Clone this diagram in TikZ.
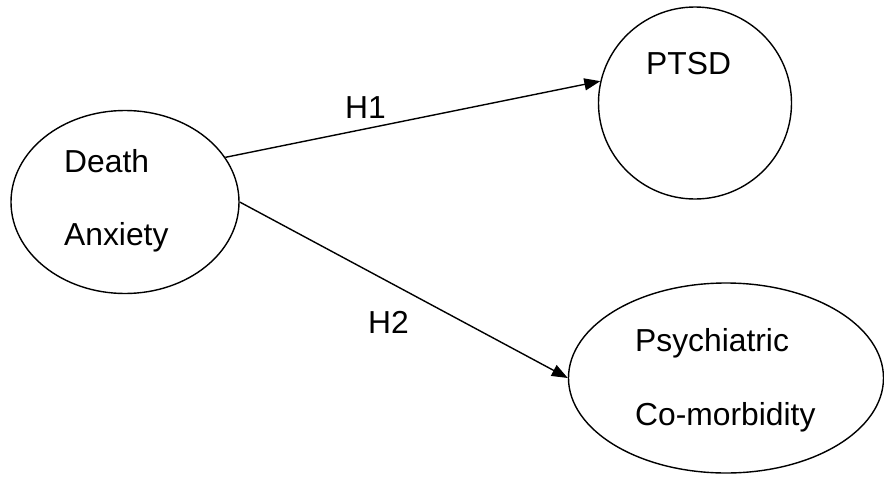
\documentclass[tikz,border=0pt]{standalone}
\usepackage{fontspec}
\setmainfont{Liberation Sans}
\usetikzlibrary{arrows.meta,shapes.geometric,positioning}

\tikzset{
  latent/.style={draw, ellipse, line width=1.4pt, inner sep=0pt},
  lbl/.style={anchor=base west, inner sep=0pt, font=\fontsize{31.8}{38}\selectfont},
  path/.style={line width=1.4pt, -{Triangle[length=16pt,width=12pt]}}
}

\begin{document}
\begin{tikzpicture}[x=1pt,y=-1pt]
            \useasboundingbox (0,0) rectangle (884,477);
            % Draw constructs
            \node[latent, minimum width=228pt, minimum height=183pt] (da) at (125,202) {};
            \node[latent, minimum width=193pt, minimum height=192pt] (pt) at (695,103) {};
            \node[latent, minimum width=315pt, minimum height=190pt] (pc) at (726,378) {};
            % construct names
            \node[lbl] (daA) at (64,172) {Death};
            \node[lbl] (daB) at (64,245) {Anxiety};
            \node[lbl] (ptA) at (646,74) {PTSD};
            \node[lbl] (pcA) at (635,351) {Psychiatric};
            \node[lbl] (pcB) at (635,425) {Co-morbidity};
            % hypotheses
            \draw[path] (da.24) -- (pt.167);
            \draw[path] (da.east) -- (pc.west);
            \node[lbl] (h1) at (345,118) {H1};
            \node[lbl] (h2) at (368,333) {H2};
          \end{tikzpicture}
\end{document}
